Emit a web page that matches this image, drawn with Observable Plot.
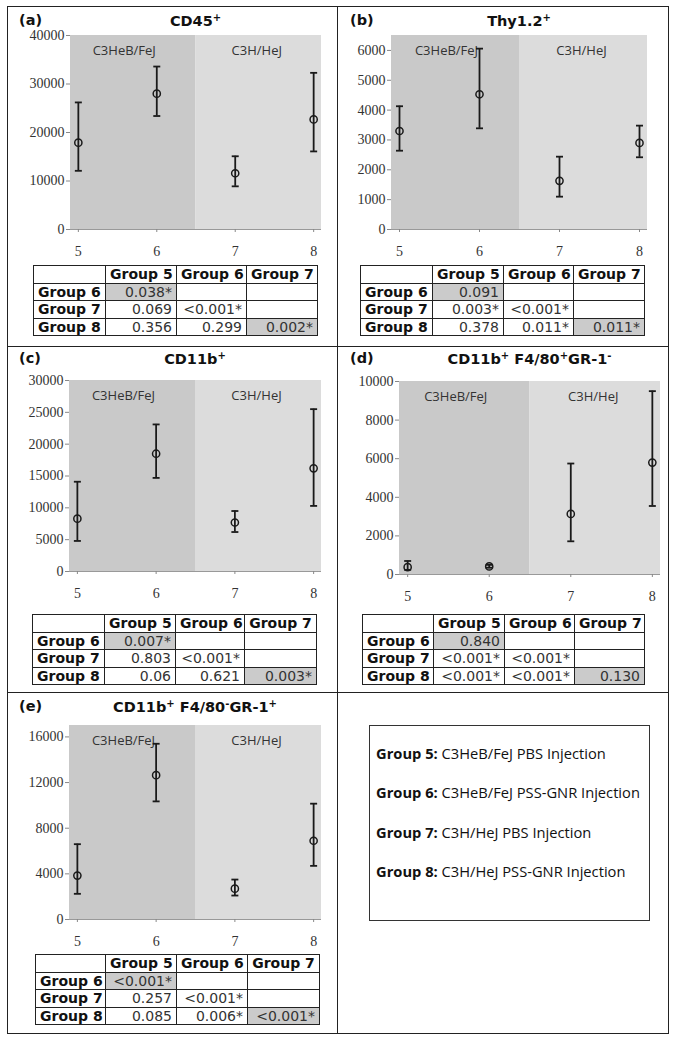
<!DOCTYPE html>
<html>
<head>
<meta charset="utf-8">
<script src="https://cdn.jsdelivr.net/npm/d3@7"></script>
<script src="https://cdn.jsdelivr.net/npm/@observablehq/plot@0.6"></script>
<style>
  body { margin: 0; background: #fff; }
  #root { position: relative; width: 674px; height: 1041px; background: #fff; overflow: hidden; }
  .frame { position: absolute; border: 1.5px solid #222; box-sizing: border-box; }
  .vline { position: absolute; background: #222; width: 1.5px; }
  .hline { position: absolute; background: #222; height: 1.5px; }
  .plabel { position: absolute; font-family: "DejaVu Sans", sans-serif; font-weight: bold; font-size: 14.5px; color: #111; }
  .ptitle { position: absolute; font-family: "DejaVu Sans", sans-serif; font-weight: bold; font-size: 14.5px; color: #111; text-align: center; white-space: nowrap; transform: translateX(-50%); }
  .ptitle sup { font-size: 10px; vertical-align: 5px; line-height: 0; }
  table.pt { position: absolute; border-collapse: collapse; font-family: "DejaVu Sans", sans-serif; font-size: 14px; table-layout: fixed; }
  table.pt td { border: 1.5px solid #222; padding: 0 4px; height: 16.5px; line-height: 16.5px; white-space: nowrap; overflow: hidden; }
  table.pt td.h { font-weight: bold; color: #111; }
  table.pt td.ch { font-weight: bold; color: #111; text-align: center; }
  table.pt td.v { text-align: right; color: #333; }
  table.pt td.s { background: #cbcbcb; }
  .legend { position: absolute; border: 1.5px solid #333; box-sizing: border-box; font-family: "Open Sans", sans-serif; font-size: 14.7px; color: #111; }
  .legend div { position: absolute; left: 6px; white-space: nowrap; }
  .legend b { font-weight: bold; }
</style>
</head>
<body>
<div id="root"></div>
<script>
// ---------- data ----------
const groups = [5, 6, 7, 8];
const strains = ["C3HeB/FeJ", "C3H/HeJ"];
const colGroups = ["Group 5", "Group 6", "Group 7"];
const rowGroups = ["Group 6", "Group 7", "Group 8"];

// (a) CD45+
const cd45Mean = [17900, 28000, 11600, 22700];
const cd45Low  = [12100, 23400, 8900, 16100];
const cd45High = [26200, 33600, 15100, 32300];
const cd45P = [["0.038*", "", ""], ["0.069", "<0.001*", ""], ["0.356", "0.299", "0.002*"]];

// (b) Thy1.2+
const thyMean = [3300, 4530, 1630, 2900];
const thyLow  = [2640, 3390, 1100, 2420];
const thyHigh = [4130, 6060, 2440, 3480];
const thyP = [["0.091", "", ""], ["0.003*", "<0.001*", ""], ["0.378", "0.011*", "0.011*"]];

// (c) CD11b+
const cd11Mean = [8300, 18500, 7700, 16200];
const cd11Low  = [4800, 14700, 6200, 10300];
const cd11High = [14100, 23100, 9500, 25500];
const cd11P = [["0.007*", "", ""], ["0.803", "<0.001*", ""], ["0.06", "0.621", "0.003*"]];

// (d) CD11b+ F4/80+ GR-1-
const macMean = [380, 420, 3140, 5800];
const macLow  = [240, 350, 1720, 3550];
const macHigh = [700, 500, 5750, 9500];
const macP = [["0.840", "", ""], ["<0.001*", "<0.001*", ""], ["<0.001*", "<0.001*", "0.130"]];

// (e) CD11b+ F4/80- GR-1+
const neuMean = [3850, 12650, 2700, 6900];
const neuLow  = [2250, 10350, 2100, 4700];
const neuHigh = [6600, 15400, 3500, 10150];
const neuP = [["<0.001*", "", ""], ["0.257", "<0.001*", ""], ["0.085", "0.006*", "<0.001*"]];

const legendLines = [
  ["Group 5:", "C3HeB/FeJ PBS Injection"],
  ["Group 6:", "C3HeB/FeJ PSS-GNR Injection"],
  ["Group 7:", "C3H/HeJ PBS Injection"],
  ["Group 8:", "C3H/HeJ PSS-GNR Injection"]
];

// ---------- layout ----------
const root = document.getElementById("root");
function el(tag, cls, css, html) {
  const e = document.createElement(tag);
  if (cls) e.className = cls;
  Object.assign(e.style, css || {});
  if (html != null) e.innerHTML = html;
  root.appendChild(e);
  return e;
}

el("div", "frame", {left: "7px", top: "6px", width: "662px", height: "1028px"});
el("div", "vline", {left: "336.5px", top: "6px", height: "1028px"});
el("div", "hline", {left: "7px", top: "345.5px", width: "662px"});
el("div", "hline", {left: "7px", top: "691.5px", width: "662px"});

const xDomain = [4.9, 8.1];
const split = 6.5;

function panel(cfg) {
  const data = groups.map((g, i) => ({g, mean: cfg.mean[i], lo: cfg.lo[i], hi: cfg.hi[i]}));
  const ymax = cfg.yDomain[1];
  const regions = [
    {x1: xDomain[0], x2: split, fill: "#c9c9c9", label: strains[0]},
    {x1: split, x2: xDomain[1], fill: "#dcdcdc", label: strains[1]}
  ];
  const capSymbol = {
    draw(ctx, size) {
      const r = Math.sqrt(size / Math.PI);
      ctx.moveTo(-r, 0);
      ctx.lineTo(r, 0);
    }
  };
  const labelStyle = {y: ymax, text: "label", dy: 15, fill: "#333", fontFamily: "'Open Sans', sans-serif", fontSize: 13};
  const chart = Plot.plot({
    width: cfg.width,
    height: cfg.mt + cfg.ph + cfg.mb,
    marginLeft: cfg.ml,
    marginRight: cfg.mr,
    marginTop: cfg.mt,
    marginBottom: cfg.mb,
    style: {fontFamily: "'Liberation Serif', serif", fontSize: "14px", color: "#333", background: "transparent", overflow: "visible"},
    x: {domain: xDomain},
    y: {domain: cfg.yDomain},
    marks: [
      Plot.rect(regions, {x1: "x1", x2: "x2", y1: 0, y2: ymax, fill: "fill"}),
      Plot.text([regions[0]], {...labelStyle, x: d => (d.x1 + d.x2) / 2, dx: -9}),
      Plot.text([regions[1]], {...labelStyle, x: d => (d.x1 + d.x2) / 2, dx: -2}),
      Plot.ruleY([0], {stroke: "#999", strokeWidth: 1}),
      Plot.axisX({ticks: groups, tickFormat: d => String(d), tickSize: 3, tickPadding: 14, stroke: "#888", color: "#333"}),
      Plot.axisY({ticks: cfg.yTicks, tickFormat: d => String(d), tickSize: 4, tickPadding: 2, stroke: "#888", color: "#333"}),
      Plot.ruleX(data, {x: "g", y1: "lo", y2: "hi", stroke: "#1a1a1a", strokeWidth: 1.8}),
      Plot.dot(data, {x: "g", y: "hi", symbol: capSymbol, r: 3.5, stroke: "#1a1a1a", strokeWidth: 1.8, fill: "none"}),
      Plot.dot(data, {x: "g", y: "lo", symbol: capSymbol, r: 3.5, stroke: "#1a1a1a", strokeWidth: 1.8, fill: "none"}),
      Plot.dot(data, {x: "g", y: "mean", r: 3.6, stroke: "#1a1a1a", strokeWidth: 1.5, fill: "none"})
    ]
  });
  chart.style.position = "absolute";
  chart.style.left = cfg.left + "px";
  chart.style.top = cfg.top + "px";
  root.appendChild(chart);

  el("div", "plabel", {left: cfg.labelX + "px", top: cfg.titleY - 10 + "px"}, cfg.letter);
  const plotCenter = cfg.left + cfg.ml + (cfg.width - cfg.ml - cfg.mr) / 2;
  el("div", "ptitle", {left: plotCenter + "px", top: cfg.titleY - 9 + "px"}, cfg.title);

  const t = el("table", "pt", {left: cfg.tx + "px", top: cfg.ty + "px", width: cfg.tw + "px"});
  const cg = document.createElement("colgroup");
  cfg.tcols.forEach(w => { const c = document.createElement("col"); c.style.width = w + "px"; cg.appendChild(c); });
  t.appendChild(cg);
  const head = document.createElement("tr");
  head.innerHTML = "<td></td>" + colGroups.map(c => `<td class="ch">${c}</td>`).join("");
  t.appendChild(head);
  rowGroups.forEach((r, i) => {
    const tr = document.createElement("tr");
    tr.innerHTML = `<td class="h">${r}</td>` + cfg.p[i].map((v, j) => {
      const shaded = (i === 0 && j === 0) || (i === 2 && j === 2);
      return `<td class="v${shaded ? " s" : ""}">${v}</td>`;
    }).join("");
    t.appendChild(tr);
  });
}

panel({letter: "(a)", title: "CD45<sup>+</sup>", labelX: 19, titleY: 22,
  mean: cd45Mean, lo: cd45Low, hi: cd45High, yDomain: [0, 40000], yTicks: [0, 10000, 20000, 30000, 40000],
  left: 8, top: 25, width: 328, ml: 62, mr: 15, mt: 10, ph: 194, mb: 32,
  p: cd45P, tx: 33, ty: 265, tw: 284, tcols: [72, 71, 70, 71]});

panel({letter: "(b)", title: "Thy1.2<sup>+</sup>", labelX: 350, titleY: 22,
  mean: thyMean, lo: thyLow, hi: thyHigh, yDomain: [0, 6500], yTicks: [0, 1000, 2000, 3000, 4000, 5000, 6000],
  left: 338, top: 25, width: 330, ml: 53, mr: 21, mt: 10, ph: 194, mb: 32,
  p: thyP, tx: 360, ty: 265, tw: 284, tcols: [72, 71, 70, 71]});

panel({letter: "(c)", title: "CD11b<sup>+</sup>", labelX: 19, titleY: 360,
  mean: cd11Mean, lo: cd11Low, hi: cd11High, yDomain: [0, 30000], yTicks: [0, 5000, 10000, 15000, 20000, 25000, 30000],
  left: 8, top: 370, width: 328, ml: 61, mr: 15, mt: 10, ph: 191, mb: 32,
  p: cd11P, tx: 32, ty: 614, tw: 284, tcols: [72, 71, 69, 72]});

panel({letter: "(d)", title: "CD11b<sup>+</sup> F4/80<sup>+</sup>GR-1<sup>-</sup>", labelX: 350, titleY: 360,
  mean: macMean, lo: macLow, hi: macHigh, yDomain: [0, 10000], yTicks: [0, 2000, 4000, 6000, 8000, 10000],
  left: 338, top: 371, width: 330, ml: 61, mr: 8, mt: 10, ph: 193, mb: 32,
  p: macP, tx: 362, ty: 614, tw: 282, tcols: [71, 71, 70, 70]});

panel({letter: "(e)", title: "CD11b<sup>+</sup> F4/80<sup>-</sup>GR-1<sup>+</sup>", labelX: 19, titleY: 708,
  mean: neuMean, lo: neuLow, hi: neuHigh, yDomain: [0, 17000], yTicks: [0, 4000, 8000, 12000, 16000],
  left: 8, top: 715, width: 328, ml: 61, mr: 15, mt: 10, ph: 194, mb: 32,
  p: neuP, tx: 35, ty: 954, tw: 284, tcols: [70, 71, 71, 72]});

const lg = el("div", "legend", {left: "369px", top: "725px", width: "281px", height: "196px"});
legendLines.forEach((l, i) => {
  const d = document.createElement("div");
  d.style.top = (17 + i * 39.3) + "px";
  d.innerHTML = `<b>${l[0]}</b> ${l[1]}`;
  lg.appendChild(d);
});
</script>
</body>
</html>
